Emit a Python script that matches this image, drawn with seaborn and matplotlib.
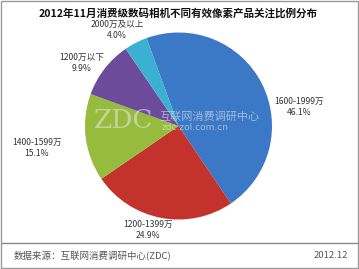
import matplotlib
matplotlib.use("Agg")
import matplotlib.pyplot as plt
import seaborn as sns
from matplotlib.patches import Rectangle
from matplotlib.lines import Line2D

sns.set_style("white")
plt.rcParams['font.family'] = ['Noto Sans CJK SC', 'DejaVu Sans']

categories = ["1600-1999万", "1200-1399万", "1400-1599万", "1200万以下", "2000万及以上"]
values = [46.1, 24.9, 15.1, 9.9, 4.0]
pct_labels = ["46.1%", "24.9%", "15.1%", "9.9%", "4.0%"]
colors = ["#3b78c6", "#c3322c", "#97bb3c", "#6c4b9b", "#3cb0d2"]
label_px = [(299, 107), (148, 230), (37, 148), (82, 63), (117, 30)]

W, H = 359, 269
fig = plt.figure(figsize=(W / 100, H / 100), dpi=100)
fig.patch.set_facecolor("white")

cx, cy, r = 178.5, 126, 93.5
ax = fig.add_axes([(cx - r) / W, (H - cy - r) / H, 2 * r / W, 2 * r / H])
ax.pie(values, colors=colors, startangle=110, counterclock=False,
       radius=1, wedgeprops=dict(linewidth=0))
ax.set_xlim(-1, 1)
ax.set_ylim(-1, 1)
ax.set_axis_off()

def fx(x): return x / W
def fy(y): return 1 - y / H

for cat, pct, (x, y) in zip(categories, pct_labels, label_px):
    fig.text(fx(x), fy(y), f"{cat}\n{pct}", ha="center", va="center",
             fontsize=6.2, color="#333333", linespacing=1.25)

fig.text(fx(178), fy(13), "2012年11月消费级数码相机不同有效像素产品关注比例分布",
         ha="center", va="center", fontsize=7.6, fontweight="bold", color="#111111")

# watermark
fig.text(fx(124), fy(121), "ZDC", ha="center", va="center", fontsize=19,
         color="#e8e8e8", alpha=0.55, family="DejaVu Serif")
fig.text(fx(209), fy(117), "互联网消费调研中心", ha="center", va="center", fontsize=8,
         color="#e8e8e8", alpha=0.6)
fig.text(fx(195), fy(128), "zdc.zol.com.cn", ha="center", va="center", fontsize=6.5,
         color="#e8e8e8", alpha=0.6, family="DejaVu Sans")

# footer
fig.add_artist(Line2D([fx(2), fx(357)], [fy(242.5), fy(242.5)], color="#888888", lw=1.0))
fig.text(fx(14), fy(256), "数据来源：互联网消费调研中心(ZDC)", ha="left", va="center",
         fontsize=6.8, color="#555555")
fig.text(fx(348), fy(256), "2012.12", ha="right", va="center", fontsize=6.8, color="#555555")

fig.add_artist(Rectangle((0.002, 0.002), 0.996, 0.996, transform=fig.transFigure,
                         fill=False, edgecolor="#999999", lw=1.0))

fig.savefig("out.png", dpi=100)
